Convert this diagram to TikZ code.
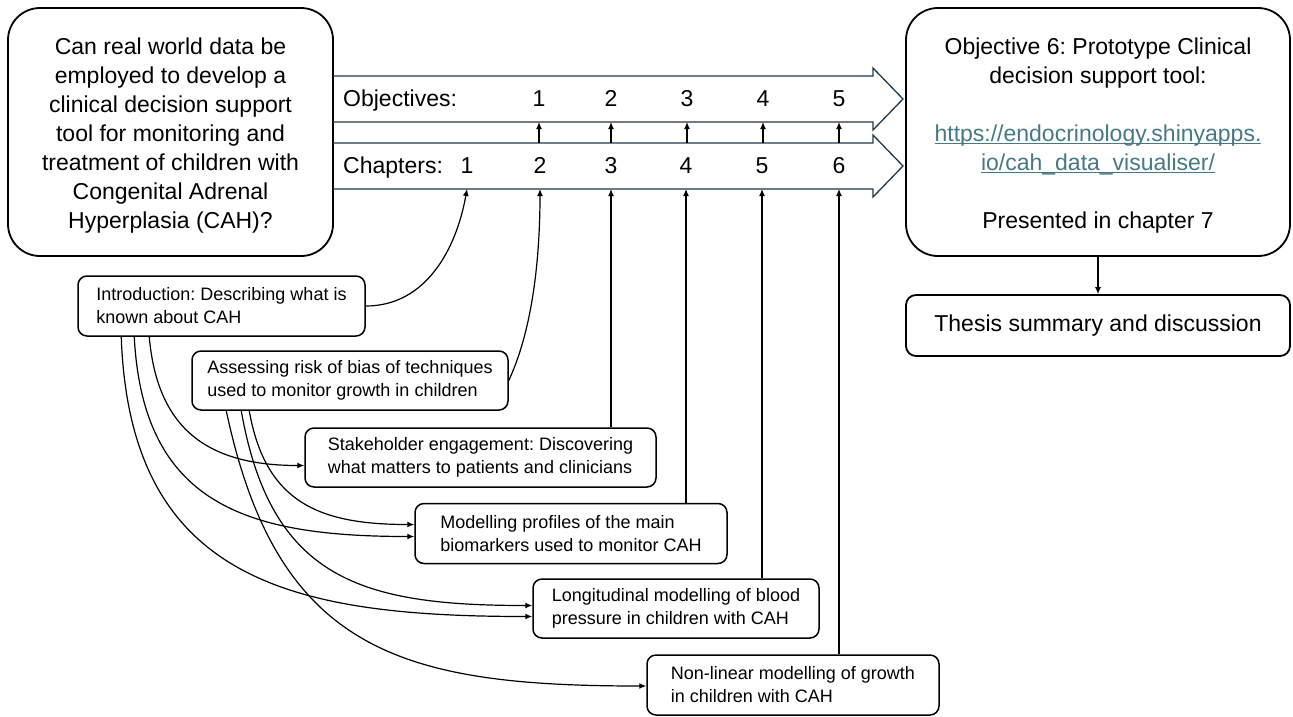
\documentclass[tikz,border=0pt]{standalone}
\usepackage{fontspec}
\setmainfont{Liberation Sans}
\frenchspacing
\usetikzlibrary{arrows.meta}
\definecolor{arrowslate}{RGB}{31,56,73}
\definecolor{linkteal}{RGB}{70,120,134}
\newcommand\linkline[1]{\underline{\smash{#1}}}

\begin{document}
\begin{tikzpicture}[x=1pt, y=-1pt,
    bigbox/.style={draw, line width=1.8pt, rounded corners=32pt, align=center,
      font=\fontsize{23}{29}\selectfont},
    smallbox/.style={draw, line width=1.5pt, rounded corners=9pt, align=left,
      inner xsep=12pt, font=\fontsize{18}{23}\selectfont},
    conn/.style={line width=1.2pt, -{Latex[length=7pt,width=6pt]}},
    blockarrow/.style={draw=arrowslate, line width=1.3pt},
    lbl/.style={inner sep=0pt, font=\fontsize{23}{29}\selectfont}]
    \useasboundingbox (0,0) rectangle (1293,716);

    % research question and final tool
    \node[bigbox, minimum width=325pt, minimum height=248pt] (question) at (170.5,132)
      {\rule{0pt}{24pt}Can real world data be\\ employed to develop a\\ clinical decision support\\
       tool for monitoring and\\ treatment of children with\\ Congenital Adrenal\\
       Hyperplasia (CAH)?};
    \node[bigbox, minimum width=384pt, minimum height=248pt] (tool) at (1098,132)
      {\rule{0pt}{24pt}Objective 6: Prototype Clinical\\ decision support tool:\\[29pt]
       \color{linkteal}\linkline{https://endocrinology.shinyapps.}\\
       \color{linkteal}\linkline{io/cah\_data\_visualiser/}\\[29pt]
       Presented in chapter 7};
    \node[draw, line width=1.8pt, rounded corners=10pt, minimum width=384pt, minimum height=61pt,
      font=\fontsize{23}{29}\selectfont] (summary) at (1098,325.5) {Thesis summary and discussion};
    \draw[conn] (tool.south) -- (summary.north);

    % the two block arrows
    \coordinate (objbot) at (0,122);
    \coordinate (chaptop) at (0,143);
    \coordinate (chapbot) at (0,189);
    \draw[blockarrow] (333,76) -- (873,76) -- (873,68) -- (903,99) -- (873,130) -- (873,122) -- (333,122);
    \draw[blockarrow] (333,143) -- (873,143) -- (873,135) -- (903,166) -- (873,197) -- (873,189) -- (333,189);

    \node[lbl, anchor=base west] (objlabel) at (343,106) {Objectives:};
    \node[lbl, anchor=base west] (chaplabel) at (343,173) {Chapters:};
    \foreach \n/\x in {1/539, 2/611, 3/687, 4/763, 5/839}
        \node[lbl, anchor=base] (ob\n) at (\x,106) {\n};
    \foreach \n/\x in {1/467, 2/540, 3/611, 4/686, 5/762, 6/839}
        \node[lbl, anchor=base] (ch\n) at (\x,173) {\n};
    \foreach \n in {1,...,5}
        \draw[conn] (ob\n |- chaptop) -- (ob\n |- objbot);

    % chapter boxes
    \node[smallbox, minimum width=287pt, minimum height=60pt] (intro) at (221.5,306)
      {Introduction: Describing what is\\ known about CAH};
    \node[smallbox, minimum width=316pt, minimum height=59pt] (assess) at (350,380.5)
      {Assessing risk of bias of techniques\\ used to monitor growth in children};
    \node[smallbox, minimum width=351pt, minimum height=59pt] (stake) at (480.5,457.5)
      {Stakeholder engagement: Discovering\\ what matters to patients and clinicians};
    \node[smallbox, minimum width=312pt, minimum height=60pt] (model) at (571,533.5)
      {Modelling profiles of the main\\ biomarkers used to monitor CAH};
    \node[smallbox, minimum width=286pt, minimum height=59pt] (long) at (676,608.5)
      {Longitudinal modelling of blood\\ pressure in children with CAH};
    \node[smallbox, minimum width=292pt, minimum height=60pt] (nonlin) at (793,685)
      {Non-linear modelling of growth\\ in children with CAH};

    % boxes up to their chapters
    \draw[conn] (intro.east) to[out=0, in=-100] (ch1 |- chapbot);
    \draw[conn] (assess.east) to[out=65, in=-90, looseness=0.8] (ch2 |- chapbot);
    \foreach \b/\n in {stake/3, model/4, long/5, nonlin/6}
        \draw[conn] (\b.north -| ch\n) -- (ch\n |- chapbot);

    % what feeds each chapter
    \draw[conn] ([xshift=72pt]intro.south west) to[out=-85, in=180, looseness=1.2] ([yshift=-8pt]stake.west);
    \draw[conn] ([xshift=57pt]intro.south west) to[out=-87, in=180, looseness=1.25] ([yshift=-3pt]model.west);
    \draw[conn] ([xshift=44pt]intro.south west) to[out=-88, in=180, looseness=1.25] ([yshift=-8pt]long.west);
    \draw[conn] ([xshift=58pt]assess.south west) to[out=-80, in=180, looseness=1.2] ([yshift=9pt]model.west);
    \draw[conn] ([xshift=50pt]assess.south west) to[out=-80, in=180, looseness=1.25] ([yshift=3pt]long.west);
    \draw[conn] ([xshift=35pt]assess.south west) to[out=-78, in=180, looseness=1.25] ([yshift=-1pt]nonlin.west);
\end{tikzpicture}
\end{document}
